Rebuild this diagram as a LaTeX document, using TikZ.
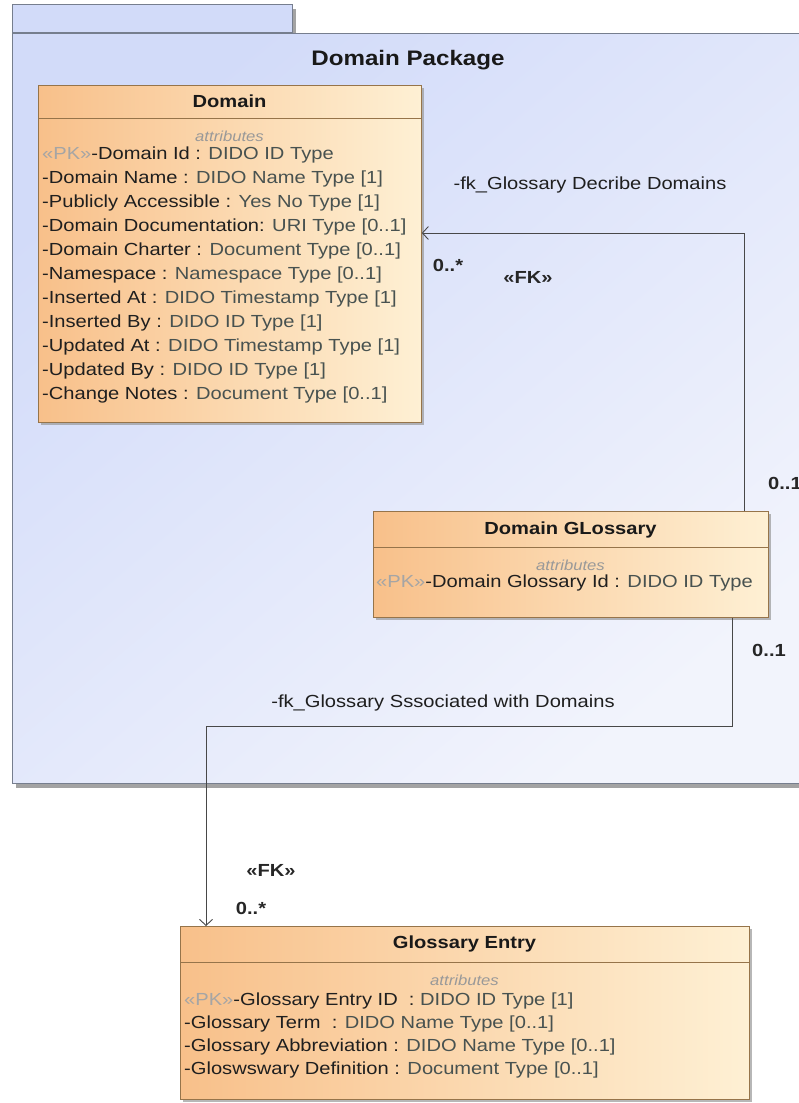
\documentclass[tikz,border=0pt]{standalone}
\usepackage{fontspec}
\usepackage{tikz}
\usepackage{xcolor}
\usetikzlibrary{arrows.meta,shadows}
\setmainfont{Liberation Sans}[FakeStretch=1.15]

\definecolor{pkgfill}{RGB}{210,219,249}
\definecolor{pkgfilltwo}{RGB}{242,244,252}
\definecolor{pkgline}{RGB}{118,126,142}
\definecolor{clsleft}{RGB}{248,192,138}
\definecolor{clsright}{RGB}{254,240,212}
\definecolor{clsline}{RGB}{150,116,74}
\definecolor{typetext}{RGB}{72,82,80}
\definecolor{pktext}{RGB}{165,165,165}
\definecolor{wire}{RGB}{72,72,72}

\newcommand{\pk}{{\color{pktext}«PK»}}
\newcommand{\ty}[1]{{\color{typetext}#1}}

\begin{document}
\begin{tikzpicture}[x=1pt,y=-1pt,
  pkg/.style={draw=pkgline,line width=1pt,inner sep=0pt,
    drop shadow={shadow xshift=3pt,shadow yshift=-4pt,fill=black!45,opacity=0.8}},
  cls/.style={draw=clsline,line width=0.8pt,inner sep=0pt,
    left color=clsleft,right color=clsright,
    drop shadow={shadow xshift=3pt,shadow yshift=-3pt,fill=black!40,opacity=0.7}},
  clstitle/.style={font=\fontsize{17.5}{20}\selectfont\bfseries,text=black!90,inner sep=0pt},
  attrhead/.style={font=\fontsize{14.5}{16}\selectfont\itshape,text=black!40,inner sep=0pt},
  attrline/.style={anchor=mid west,font=\fontsize{17.5}{20}\selectfont,text=black!88,inner sep=0pt},
  rolelabel/.style={font=\fontsize{17.5}{20}\selectfont,text=black!88,inner sep=0pt},
  multlabel/.style={font=\fontsize{17.5}{20}\selectfont\bfseries,text=black!85,inner sep=0pt},
  assoc/.style={draw=wire,line width=0.9pt,-{Straight Barb[length=6pt,width=13pt]}}]

\useasboundingbox (0,0) rectangle (798,1103);

% package
\node[pkg,fill=pkgfill,anchor=south west,minimum width=280pt,minimum height=28pt] (tab) at (12,33) {};
\node[pkg,top color=pkgfill,bottom color=pkgfilltwo,shading angle=40,anchor=north west,
  minimum width=800pt,minimum height=750pt] (pkg) at (12,33) {};
\node[clstitle,font=\fontsize{21}{24}\selectfont\bfseries] (pkgname) at (408,60) {Domain Package};

% Domain
\node[cls,anchor=north west,minimum width=383pt,minimum height=337pt] (domain) at (38,85) {};
\draw[clsline,line width=0.8pt] (38,118) -- (421,118);
\node[clstitle] (domainname) at (229.5,101) {Domain};
\node[attrhead] (domainattr) at (229.5,136) {attributes};
\node[attrline] (d1) at (42,157) {\pk-Domain Id : \ty{DIDO ID Type}};
\node[attrline] (d2) at (42,181) {-Domain Name : \ty{DIDO Name Type [1]}};
\node[attrline] (d3) at (42,205) {-Publicly Accessible : \ty{Yes No Type [1]}};
\node[attrline] (d4) at (42,229) {-Domain Documentation: \ty{URI Type [0..1]}};
\node[attrline] (d5) at (42,253) {-Domain Charter : \ty{Document Type [0..1]}};
\node[attrline] (d6) at (42,277) {-Namespace : \ty{Namespace Type [0..1]}};
\node[attrline] (d7) at (42,301) {-Inserted At : \ty{DIDO Timestamp Type [1]}};
\node[attrline] (d8) at (42,325) {-Inserted By : \ty{DIDO ID Type [1]}};
\node[attrline] (d9) at (42,349) {-Updated At : \ty{DIDO Timestamp Type [1]}};
\node[attrline] (d10) at (42,373) {-Updated By : \ty{DIDO ID Type [1]}};
\node[attrline] (d11) at (42,397) {-Change Notes : \ty{Document Type [0..1]}};

% Domain GLossary
\node[cls,anchor=north west,minimum width=395pt,minimum height=106pt] (glossary) at (373,511) {};
\draw[clsline,line width=0.8pt] (373,547) -- (768,547);
\node[clstitle] (glossaryname) at (570.5,530) {Domain GLossary};
\node[attrhead] (glossaryattr) at (570.5,565) {attributes};
\node[attrline] (g1) at (376,585) {\pk-Domain Glossary Id : \ty{DIDO ID Type}};

% Glossary Entry
\node[cls,anchor=north west,minimum width=569pt,minimum height=173pt] (entry) at (180,926) {};
\draw[clsline,line width=0.8pt] (180,962) -- (749,962);
\node[clstitle] (entryname) at (464.5,944) {Glossary Entry};
\node[attrhead] (entryattr) at (464.5,980) {attributes};
\node[attrline] (e1) at (184,1003) {\pk-Glossary Entry ID\ \ : \ty{DIDO ID Type [1]}};
\node[attrline] (e2) at (184,1026) {-Glossary Term\ \ : \ty{DIDO Name Type [0..1]}};
\node[attrline] (e3) at (184,1049) {-Glossary Abbreviation : \ty{DIDO Name Type [0..1]}};
\node[attrline] (e4) at (184,1072) {-Gloswswary Definition : \ty{Document Type [0..1]}};

% associations
\coordinate (c1) at (744,233);
\draw[assoc] (glossary.north -| c1) -- (c1) -- (c1 -| domain.east);
\node[rolelabel] (role1) at (590,185) {-fk\_Glossary Decribe Domains};
\node[multlabel] (m1) at (448,265) {0..*};
\node[multlabel] (fk1) at (528,277) {«FK»};
\node[multlabel,anchor=west] (m2) at (768,483) {0..1};

\coordinate (c2a) at (732,726);
\coordinate (c2b) at (206,726);
\draw[assoc] (glossary.south -| c2a) -- (c2a) -- (c2b) -- (c2b |- entry.north);
\node[multlabel] (m3) at (769,650) {0..1};
\node[rolelabel] (role2) at (443,703) {-fk\_Glossary Sssociated with Domains};
\node[multlabel] (fk2) at (271,870) {«FK»};
\node[multlabel] (m4) at (251,908) {0..*};
\end{tikzpicture}
\end{document}
